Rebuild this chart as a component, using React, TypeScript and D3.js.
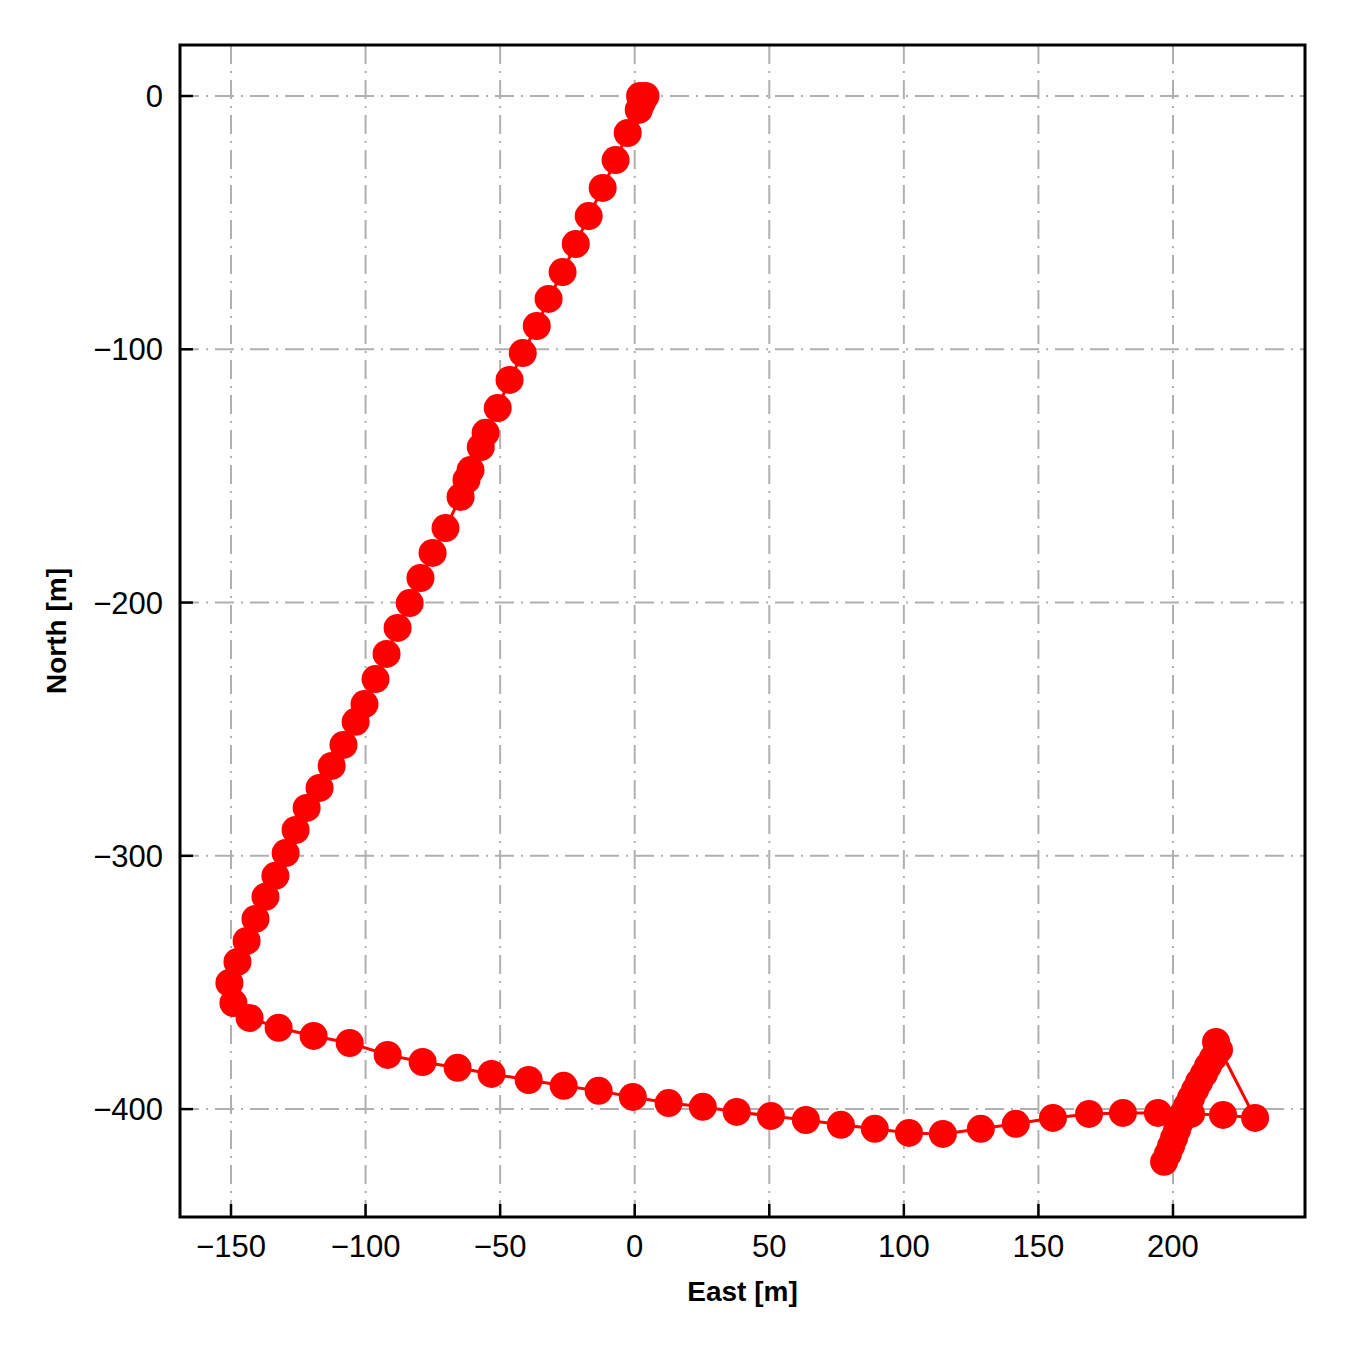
import React from "react";
import * as d3 from "d3";

const eastValues: number[] = [
  2.0, 3.0, 4.0, 3.3, 2.6, 1.5, -2.6, -7.1, -11.9, -17.1, -21.9, -26.8, -32.0, -36.4, -41.6, -46.5,
  -50.9, -55.4, -57.2, -61.0, -62.5, -64.7, -70.3, -75.1, -79.6, -83.6, -88.1, -92.2, -96.3,
  -100.4, -103.7, -108.2, -112.6, -117.1, -121.9, -126.0, -129.7, -133.5, -137.2, -140.9,
  -144.2, -147.6, -150.6, -149.1, -143.1, -132.3, -119.3, -105.9, -91.8, -78.8, -65.8, -53.2,
  -39.4, -26.4, -13.4, -0.7, 12.6, 25.3, 37.9, 50.6, 63.6, 76.6, 89.2, 101.9, 114.5, 128.6,
  141.6, 155.4, 168.8, 181.4, 194.4, 206.7, 218.6, 230.5, 216.0, 217.1, 214.9, 213.0, 211.5,
  209.7, 208.2, 206.7, 205.2, 203.7, 202.6, 201.5, 200.4, 199.3, 198.1, 196.7,
];
const northValues: number[] = [
  0.0, -1.0, 0.0, -0.4, -2.8, -5.5, -14.6, -25.3, -36.3, -47.4, -58.4, -69.5, -80.1, -90.8,
  -101.5, -112.1, -123.2, -133.0, -138.6, -147.7, -151.6, -158.3, -170.6, -180.4, -190.3,
  -200.2, -210.0, -220.3, -230.2, -240.1, -247.1, -256.2, -264.5, -273.2, -281.1, -289.8,
  -298.9, -307.9, -316.2, -324.9, -333.6, -341.9, -350.2, -358.1, -364.0, -367.9, -371.1,
  -373.9, -378.6, -381.4, -383.7, -386.1, -388.5, -390.8, -392.8, -395.2, -397.6, -399.1,
  -401.1, -402.7, -404.3, -406.2, -407.8, -409.4, -409.8, -407.8, -405.8, -403.5, -401.9,
  -401.5, -401.5, -401.9, -402.3, -403.5, -373.5, -376.6, -379.8, -383.0, -386.1, -389.3,
  -392.4, -395.6, -398.7, -401.9, -405.1, -408.2, -411.4, -414.5, -417.7, -420.8,
];
const xTicks: number[] = [-150, -100, -50, 0, 50, 100, 150, 200];
const yTicks: number[] = [0, -100, -200, -300, -400];
const xLabel = "East [m]";
const yLabel = "North [m]";

const W = 1350;
const H = 1350;
const left = 180;
const right = 1305;
const top = 45;
const bottom = 1217;
const FONT = "'Liberation Sans', Arial, Helvetica, sans-serif";

export default function App() {
  const x = d3.scaleLinear().domain([-168.95, 249.05]).range([left, right]);
  const y = d3.scaleLinear().domain([20.14, -442.6]).range([top, bottom]);
  const pts: [number, number][] = eastValues.map((e, i) => [e, northValues[i]]);
  const line = d3
    .line<[number, number]>()
    .x((d) => x(d[0]))
    .y((d) => y(d[1]));
  const fmt = (v: number) => (v < 0 ? "\u2212" + Math.abs(v) : String(v));
  const gridStyle = {
    stroke: "#b0b0b0",
    strokeWidth: 2,
    strokeDasharray: "19 7 2 7",
  };
  const tickLen = 13;
  return (
    <svg
      width={W}
      height={H}
      style={{ position: "absolute", left: 0, top: 0, background: "#fff" }}
    >
      <rect x={0} y={0} width={W} height={H} fill="#fff" />
      <defs>
        <clipPath id="plotclip">
          <rect x={left} y={top} width={right - left} height={bottom - top} />
        </clipPath>
      </defs>
      {xTicks.map((t) => (
        <line key={"gx" + t} x1={x(t)} x2={x(t)} y1={top} y2={bottom} {...gridStyle} />
      ))}
      {yTicks.map((t) => (
        <line key={"gy" + t} x1={left} x2={right} y1={y(t)} y2={y(t)} {...gridStyle} />
      ))}
      <g clipPath="url(#plotclip)">
        <path d={line(pts) || ""} fill="none" stroke="#ff0000" strokeWidth={3} />
        {pts.map((p, i) => (
          <circle key={i} cx={x(p[0])} cy={y(p[1])} r={14} fill="#ff0000" />
        ))}
      </g>
      {xTicks.map((t) => (
        <g key={"tx" + t}>
          <line x1={x(t)} x2={x(t)} y1={bottom} y2={bottom - tickLen} stroke="#000" strokeWidth={2.5} />
          <text
            x={x(t)}
            y={1257}
            textAnchor="middle"
            fontFamily={FONT}
            fontSize={31}
            fill="#000"
          >
            {fmt(t)}
          </text>
        </g>
      ))}
      {yTicks.map((t) => (
        <g key={"ty" + t}>
          <line x1={left} x2={left + tickLen} y1={y(t)} y2={y(t)} stroke="#000" strokeWidth={2.5} />
          <text
            x={163}
            y={y(t)}
            dy="0.36em"
            textAnchor="end"
            fontFamily={FONT}
            fontSize={31}
            fill="#000"
          >
            {fmt(t)}
          </text>
        </g>
      ))}
      <rect
        x={left}
        y={top}
        width={right - left}
        height={bottom - top}
        fill="none"
        stroke="#000"
        strokeWidth={3}
      />
      <text
        x={(left + right) / 2}
        y={1301}
        textAnchor="middle"
        fontFamily={FONT}
        fontWeight="bold"
        fontSize={28}
        fill="#000"
      >
        {xLabel}
      </text>
      <text
        transform={`translate(66, ${(top + bottom) / 2}) rotate(-90)`}
        textAnchor="middle"
        fontFamily={FONT}
        fontWeight="bold"
        fontSize={28}
        fill="#000"
      >
        {yLabel}
      </text>
    </svg>
  );
}
